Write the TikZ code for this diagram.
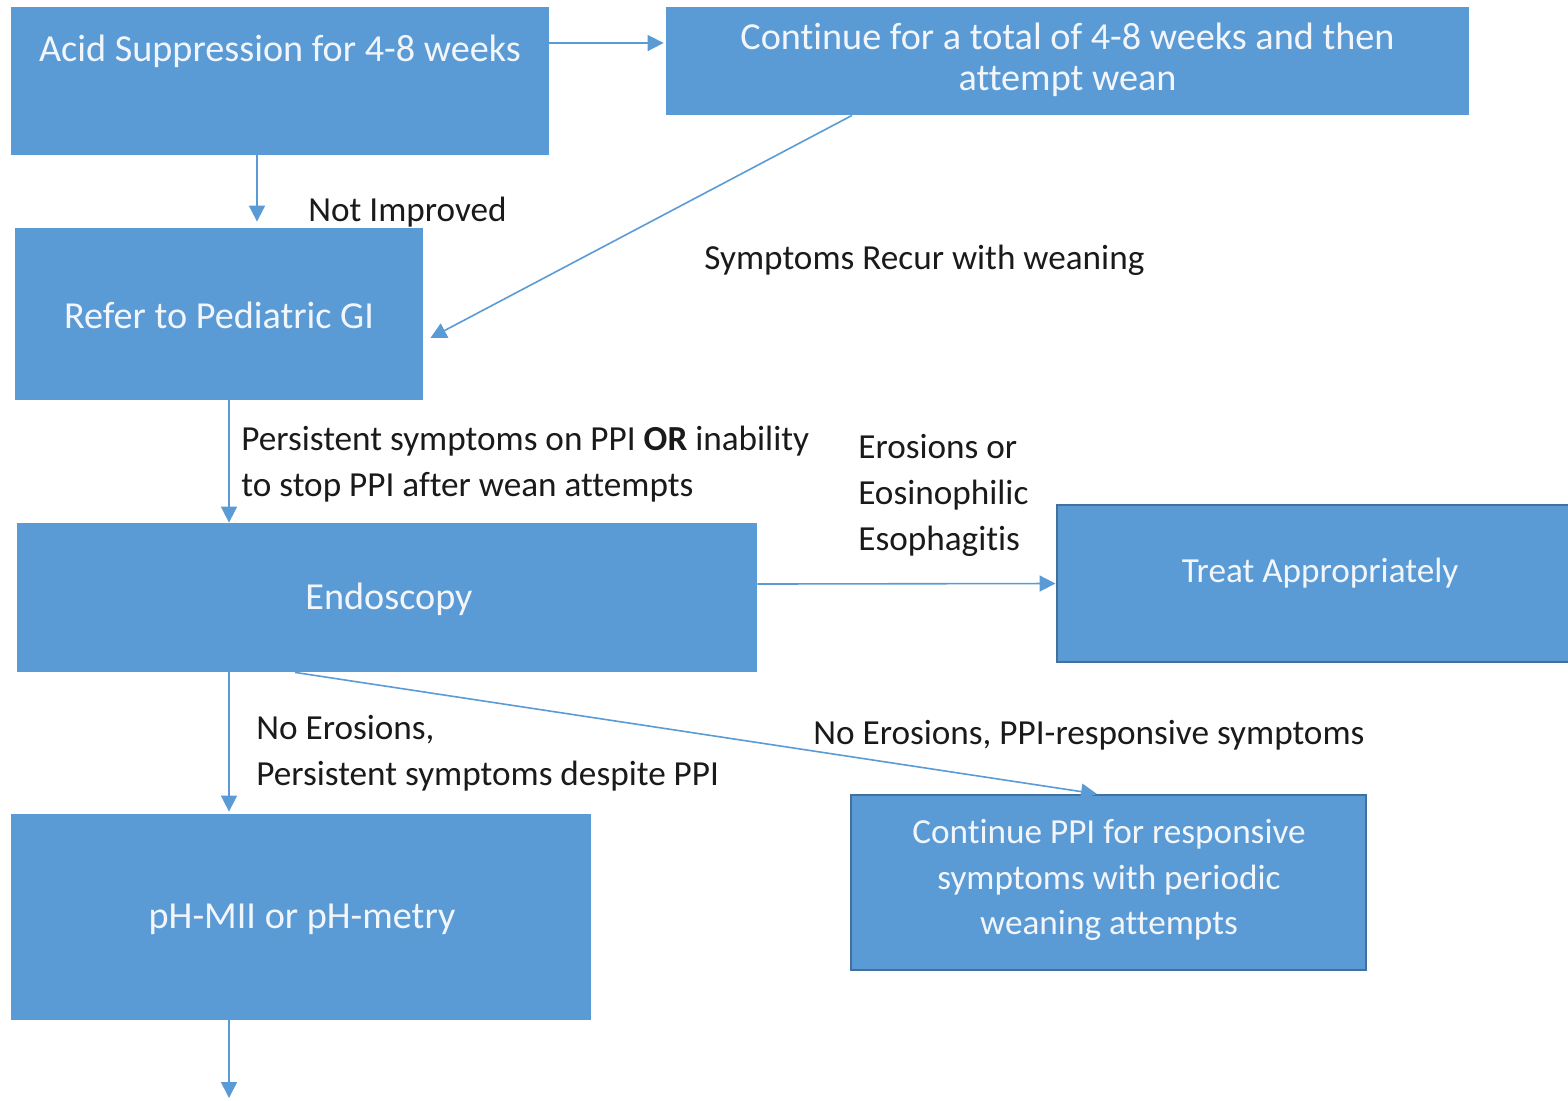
\documentclass[tikz,border=0pt]{standalone}
\usepackage{fontspec}
\setmainfont{Carlito}[Ligatures=CommonOff]
\usetikzlibrary{arrows.meta}
\definecolor{boxblue}{HTML}{5B9BD5}
\definecolor{edgeblue}{HTML}{41719C}
\definecolor{boxtext}{HTML}{F2F6FB}
\definecolor{labeltext}{HTML}{1A1A1A}
\tikzset{
  box/.style={fill=boxblue, draw=none, inner sep=0pt},
  outlined/.style={box, draw=edgeblue, line width=1pt},
  boxlabel/.style={text=boxtext, font=\fontsize{19.1}{22.75}\selectfont, align=center, inner sep=0pt},
  smalllabel/.style={boxlabel, font=\fontsize{17.6}{22.75}\selectfont},
  note/.style={text=labeltext, font=\fontsize{17.6}{23}\selectfont, align=left, inner sep=0pt, anchor=west},
  flow/.style={draw=boxblue, line width=0.8pt, -{Triangle[length=8pt,width=8pt]}}
}
\begin{document}
\begin{tikzpicture}[x=0.5pt,y=-0.5pt]
  \useasboundingbox (0,0) rectangle (1568,1100);

  % boxes
  \node[box, minimum width=269pt, minimum height=74pt] (acid) at (280,81) {};
  \node[boxlabel] (acidtext) at (280,51) {Acid Suppression for 4-8 weeks};

  \node[box, minimum width=401.5pt, minimum height=54pt] (cont) at (1067.5,61) {};
  \node[boxlabel, font=\fontsize{19.1}{20.5}\selectfont] (conttext) at (1067.5,60) {Continue for a total of 4-8 weeks and then\\attempt wean};

  \node[box, minimum width=204pt, minimum height=86pt] (refer) at (219,314) {};
  \node[boxlabel] (refertext) at (219,315) {Refer to Pediatric GI};

  \node[box, minimum width=370pt, minimum height=74.5pt] (endo) at (387,597.5) {};
  \node[boxlabel] (endotext) at (389,599) {Endoscopy};

  \node[outlined, minimum width=259.5pt, minimum height=78.5pt] (treat) at (1316,583.5) {};
  \node[smalllabel] (treattext) at (1320,573) {Treat Appropriately};

  \node[outlined, minimum width=257.5pt, minimum height=87.5pt] (ppi) at (1108.5,882.5) {};
  \node[smalllabel] (ppitext) at (1109,880) {Continue PPI for responsive\\symptoms with periodic\\weaning attempts};

  \node[box, minimum width=290pt, minimum height=103pt] (ph) at (301,917) {};
  \node[boxlabel] (phtext) at (302,919) {pH-MII or pH-metry};

  \coordinate (next) at (229,1098);

  % connectors
  \draw[flow] ([xshift=-11.5pt]acid.south) -- ([xshift=19pt,yshift=3pt]refer.north);
  \draw[flow] ([yshift=19pt]acid.east) -- ([yshift=9pt,xshift=-1pt]cont.west);
  \draw[flow] ([xshift=-107.75pt]cont.south) -- ([xshift=3.5pt,yshift=-12pt]refer.east);
  \draw[flow] ([xshift=5pt]refer.south) -- ([xshift=-79pt]endo.north);
  \draw[flow] ([yshift=6.75pt]endo.east) -- (treat.west);
  \draw[flow] ([xshift=-79pt]endo.south) -- ([xshift=-36pt,yshift=1pt]ph.north);
  \draw[flow] ([xshift=-46pt]endo.south) -- ([xshift=-5.75pt]ppi.north);
  \draw[flow] ([xshift=-36pt]ph.south) -- (next);

  % connector labels
  \node[note] (l1) at (308,212) {Not Improved};
  \node[note] (l2) at (704,260) {Symptoms Recur with weaning};
  \node[note] (l3) at (241,464) {Persistent symptoms on PPI \textbf{OR} inability\\to stop PPI after wean attempts};
  \node[note] (l4) at (858,495) {Erosions or\\Eosinophilic\\Esophagitis};
  \node[note] (l5) at (256,753) {No Erosions,\\Persistent symptoms despite PPI};
  \node[note] (l6) at (813,735) {No Erosions, PPI-responsive symptoms};
\end{tikzpicture}
\end{document}
